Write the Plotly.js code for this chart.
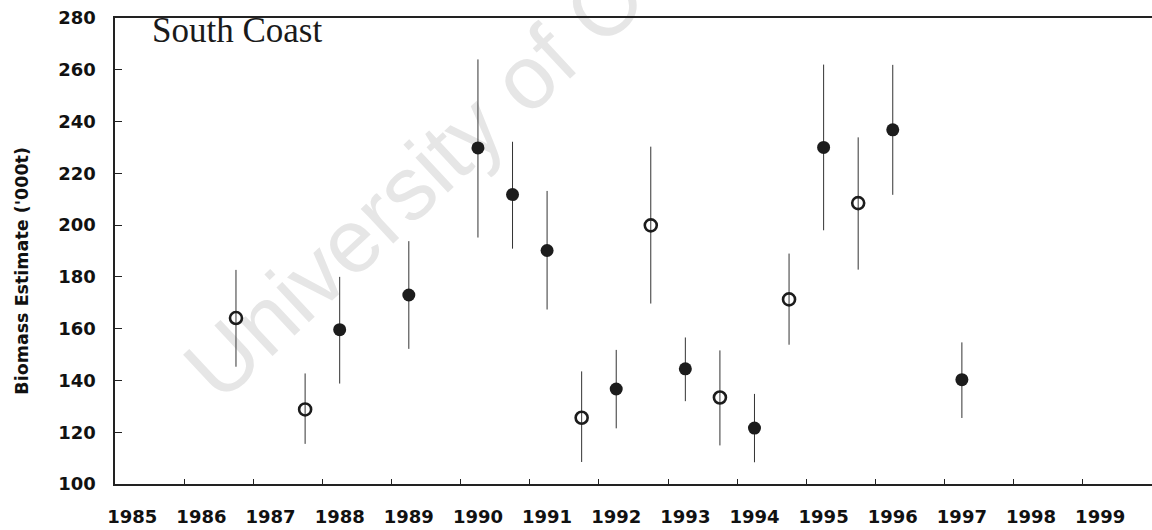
<!DOCTYPE html>
<html>
<head>
<meta charset="utf-8">
<script src="https://cdn.plot.ly/plotly-3.0.1.min.js"></script>
<style>
  html, body { margin: 0; padding: 0; background: #ffffff; }
  #chart { width: 1152px; height: 530px; }
</style>
</head>
<body>
<div id="chart"></div>
<script>
// ---- Data ----
// Filled circles (integer-year surveys)
const filledYears = [1988, 1989, 1990, 1990.5, 1991, 1992, 1993, 1994, 1995, 1996, 1997];
const filledEstimate = [159.6, 173.0, 229.8, 211.8, 190.2, 136.7, 144.5, 121.6, 230.0, 236.8, 140.3];
const filledLower = [138.8, 152.2, 195.2, 190.9, 167.4, 121.5, 132.0, 108.4, 198.0, 211.7, 125.5];
const filledUpper = [180.0, 193.8, 264.0, 232.2, 213.2, 151.8, 156.6, 134.8, 262.0, 261.9, 154.7];

// Open circles (mid-year surveys)
const openYears = [1986.5, 1987.5, 1991.5, 1992.5, 1993.5, 1994.5, 1995.5];
const openEstimate = [164.1, 128.8, 125.6, 199.9, 133.4, 171.3, 208.5];
const openLower = [145.3, 115.5, 108.5, 169.7, 114.9, 153.8, 182.8];
const openUpper = [182.7, 142.7, 143.5, 230.3, 151.6, 189.0, 233.9];

// Axis labels / ticks
const yearLabels = [1985, 1986, 1987, 1988, 1989, 1990, 1991, 1992, 1993, 1994, 1995, 1996, 1997, 1998, 1999];
const yearTickMarks = [1985.75, 1986.75, 1987.75, 1988.75, 1989.75, 1990.75, 1991.75, 1992.75, 1993.75, 1994.75, 1995.75, 1996.75, 1997.75, 1998.75];
const yTicks = [100, 120, 140, 160, 180, 200, 220, 240, 260, 280];

const panelTitle = "South Coast";
const yTitle = "Biomass Estimate ('000t)";
const watermark = "University of Cape Town";

// ---- Build traces ----
const diff = (a, b) => a.map((v, i) => v - b[i]);
const ink = '#1c1c1c';

const filledTrace = {
  type: 'scatter', mode: 'markers',
  x: filledYears, y: filledEstimate,
  marker: { symbol: 'circle', size: 13, color: ink },
  error_y: { type: 'data', symmetric: false,
    array: diff(filledUpper, filledEstimate),
    arrayminus: diff(filledEstimate, filledLower),
    width: 0, thickness: 1, color: '#333333' },
  showlegend: false, hoverinfo: 'x+y'
};

const openTrace = {
  type: 'scatter', mode: 'markers',
  x: openYears, y: openEstimate,
  marker: { symbol: 'circle-open', size: 12, color: ink, line: { width: 2.6, color: ink } },
  error_y: { type: 'data', symmetric: false,
    array: diff(openUpper, openEstimate),
    arrayminus: diff(openEstimate, openLower),
    width: 0, thickness: 1, color: '#333333' },
  showlegend: false, hoverinfo: 'x+y'
};

// invisible trace so the tick-mark overlay axis is drawn
const tickHolder = {
  type: 'scatter', mode: 'markers', x: [yearTickMarks[0]], y: [yTicks[0]],
  xaxis: 'x2', yaxis: 'y', marker: { opacity: 0 }, hoverinfo: 'skip', showlegend: false
};

const xRange = [1984.75, 1999.75];
const labelFont = { family: 'DejaVu Sans', size: 18, color: '#111111', weight: 'bold' };
const titleFont = { family: 'DejaVu Sans', size: 17.5, color: '#111111', weight: 'bold' };

const layout = {
  width: 1152, height: 530,
  margin: { l: 115, r: 0, t: 18, b: 46, pad: 0 },
  paper_bgcolor: '#ffffff', plot_bgcolor: '#ffffff',
  showlegend: false,
  xaxis: {
    range: xRange, tickmode: 'array', tickvals: yearLabels, ticktext: yearLabels.map(String),
    ticks: '', showticklabels: true, tickfont: labelFont, ticklabelstandoff: 16,
    showline: true, linecolor: '#222222', linewidth: 1.6, mirror: true,
    showgrid: false, zeroline: false
  },
  xaxis2: {
    overlaying: 'x', anchor: 'y', side: 'bottom', range: xRange,
    tickmode: 'array', tickvals: yearTickMarks, ticks: 'inside', ticklen: 5, tickwidth: 1,
    tickcolor: '#222222', showticklabels: false, showline: false, showgrid: false, zeroline: false
  },
  yaxis: {
    range: [100, 280], tickmode: 'array', tickvals: yTicks, ticktext: yTicks.map(String),
    ticks: 'inside', ticklen: 7, tickwidth: 1, tickcolor: '#222222',
    tickfont: labelFont, ticklabelstandoff: 14,
    showline: true, linecolor: '#222222', linewidth: 1.6, mirror: false,
    showgrid: false, zeroline: false
  },
  annotations: [
    { text: watermark, xref: 'paper', yref: 'paper',
      x: (553 - 115) / 1037, y: (484.3 - 52) / 466, xanchor: 'center', yanchor: 'middle',
      textangle: -43, showarrow: false,
      font: { family: 'Liberation Sans', size: 90, color: '#e6e6e6' } },
    { text: panelTitle, xref: 'paper', yref: 'paper',
      x: (150 - 115) / 1037, y: (484.3 - 31) / 466, xanchor: 'left', yanchor: 'middle',
      showarrow: false, font: { family: 'Liberation Serif', size: 35, color: '#1a1a1a' } },
    { text: yTitle, xref: 'paper', yref: 'paper',
      x: (22.5 - 115) / 1037, y: (484.3 - 271.5) / 466, xanchor: 'center', yanchor: 'middle',
      textangle: -90, showarrow: false, font: titleFont }
  ]
};

Plotly.newPlot('chart', [tickHolder, openTrace, filledTrace], layout, { staticPlot: true, displayModeBar: false })
  .then(function (gd) {
    // put the watermark behind the data, like the printed original
    const ann = gd.querySelector('.annotation[data-index="0"]');
    const mainSvg = gd.querySelector('svg.main-svg');
    const cart = mainSvg && mainSvg.querySelector('.cartesianlayer');
    if (ann && cart) cart.parentNode.insertBefore(ann, cart);
  });
</script>
</body>
</html>
